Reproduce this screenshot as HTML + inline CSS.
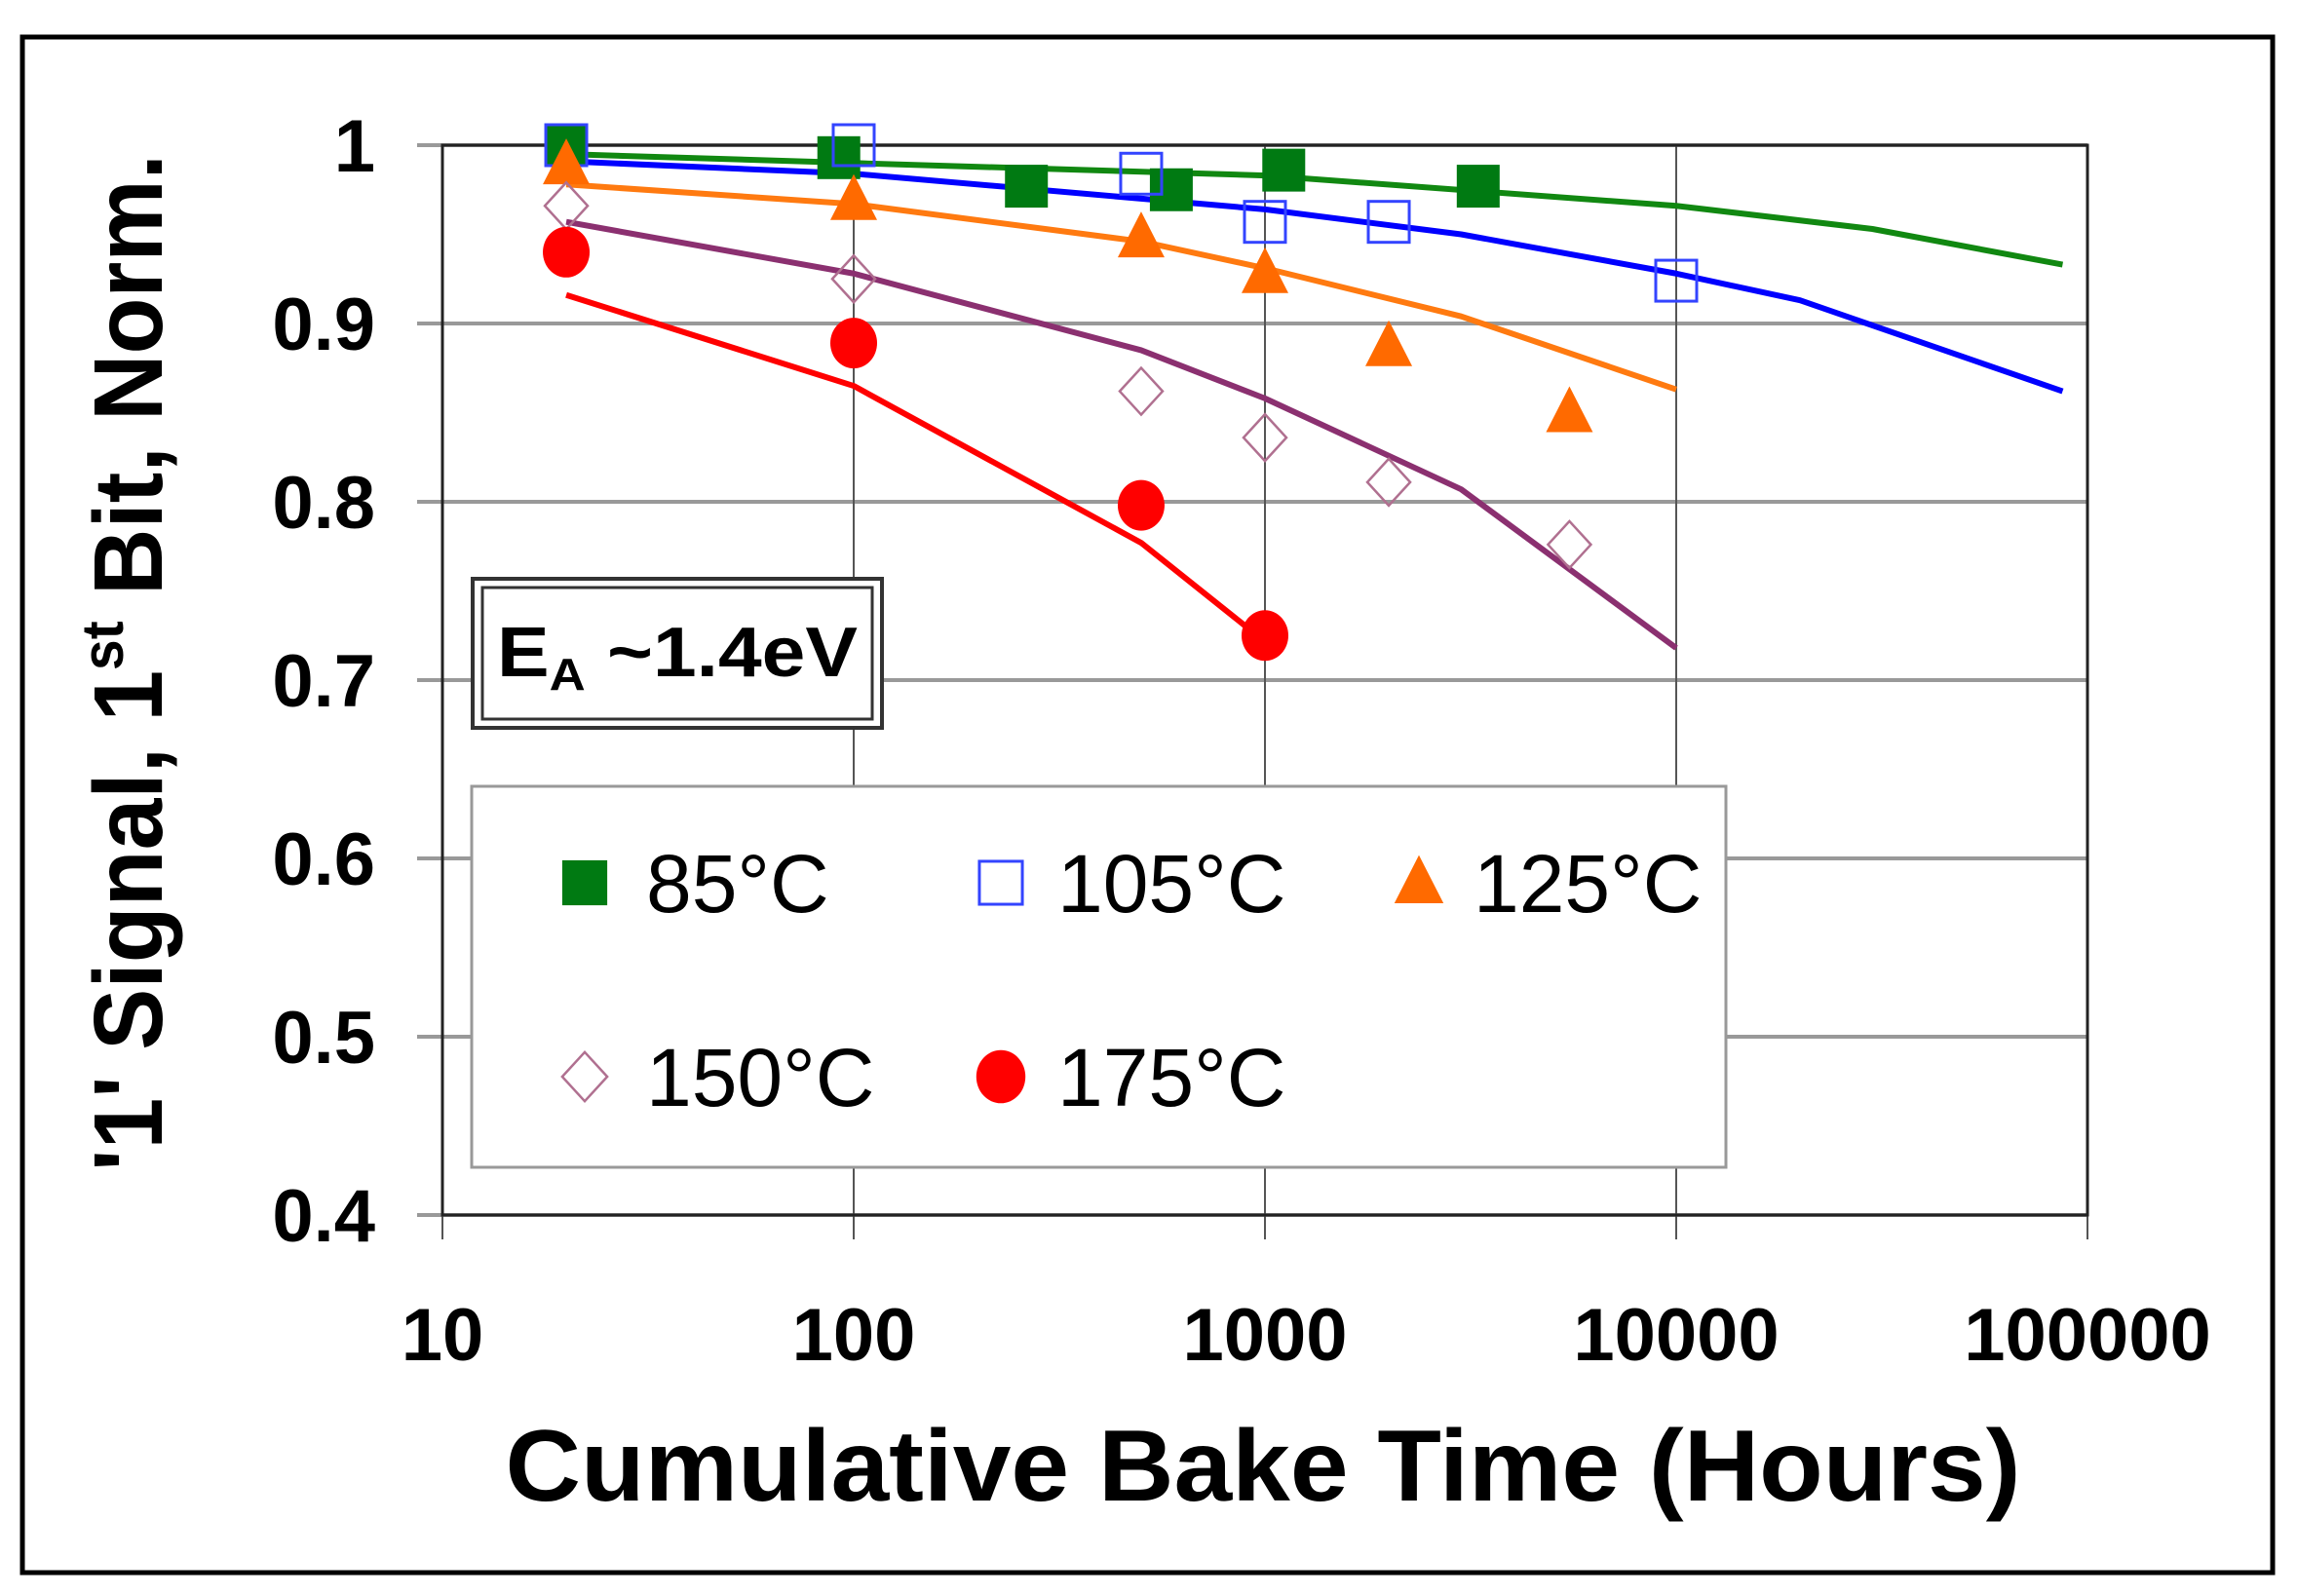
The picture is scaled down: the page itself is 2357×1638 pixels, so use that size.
<!DOCTYPE html>
<html><head><meta charset="utf-8"><style>
html,body{margin:0;padding:0;background:#fff;}
svg{display:block;font-family:"Liberation Sans",Arial,sans-serif;}
</style></head><body>
<svg id="chart" width="2357" height="1638" viewBox="0 0 2357 1638" xmlns="http://www.w3.org/2000/svg">
<rect x="23" y="38" width="2309" height="1576" fill="#fff" stroke="#000" stroke-width="5"/>
<g id="grid"></g>
<g id="axes"></g>
<g id="series"></g>
<text x="1296" y="1540" font-size="104" font-weight="bold" text-anchor="middle" textLength="1555" lengthAdjust="spacingAndGlyphs">Cumulative Bake Time (Hours)</text>
<text transform="translate(166,680) rotate(-90)" font-size="100" font-weight="bold" text-anchor="middle" textLength="1044" lengthAdjust="spacingAndGlyphs">'1' Signal, 1<tspan font-size="60" dy="-40">st</tspan><tspan dy="40"> Bit, Norm.</tspan></text>
<g>
<rect x="485" y="594" width="420" height="153" fill="#fff" stroke="#333" stroke-width="4"/>
<rect x="495" y="603" width="400" height="135" fill="none" stroke="#333" stroke-width="3"/>
<text x="510" y="694" font-size="72" font-weight="bold" textLength="370" lengthAdjust="spacingAndGlyphs">E<tspan font-size="46" dy="14">A</tspan><tspan dy="-14"> ~1.4eV</tspan></text>
</g>
<g id="legend">
<rect x="484" y="807" width="1287" height="391" fill="#fff" stroke="#999" stroke-width="3"/>
</g>
</svg>
<script>
const xTicks=[10,100,1000,10000,100000];
const xTickLabels=["10","100","1000","10000","100000"];
const yTicks=[0.4,0.5,0.6,0.7,0.8,0.9,1];
const yTickLabels=["0.4","0.5","0.6","0.7","0.8","0.9","1"];
const seriesNames=["85°C","105°C","125°C","150°C","175°C"];
const pts85x=[20,92,263,592,1111,3300];
const pts85y=[1.0,0.993,0.977,0.975,0.986,0.977];
const fit85x=[20,100,1000,10000,30000,87000];
const fit85y=[0.995,0.99,0.983,0.966,0.953,0.933];
const pts105x=[20,100,500,1000,2000,10000];
const pts105y=[1.0,1.0,0.984,0.957,0.957,0.924];
const fit105x=[20,100,1000,3000,10000,20000,87000];
const fit105y=[0.991,0.984,0.964,0.95,0.928,0.913,0.862];
const pts125x=[20,100,500,1000,2000,5500];
const pts125y=[0.989,0.969,0.948,0.928,0.887,0.85];
const fit125x=[20,100,500,1000,3000,10000];
const fit125y=[0.978,0.967,0.946,0.931,0.904,0.863];
const pts150x=[20,100,500,1000,2000,5500];
const pts150y=[0.966,0.925,0.862,0.836,0.811,0.776];
const fit150x=[20,100,500,1000,3000,10000];
const fit150y=[0.957,0.928,0.885,0.858,0.807,0.718];
const pts175x=[20,100,500,1000];
const pts175y=[0.94,0.889,0.798,0.725];
const fit175x=[20,100,500,900];
const fit175y=[0.916,0.865,0.777,0.73];

const NS="http://www.w3.org/2000/svg";
const L=454,R=2142,T=149,B=1247;
function xs(v){return L+(Math.log10(v)-1)/4*(R-L);}
function ys(v){return B-(v-0.4)/0.6*(B-T);}
function mk(tag,attrs,parent){const e=document.createElementNS(NS,tag);for(const k in attrs)e.setAttribute(k,attrs[k]);parent.appendChild(e);return e;}
const grid=document.getElementById('grid'),axes=document.getElementById('axes'),ser=document.getElementById('series'),leg=document.getElementById('legend');
mk('rect',{x:L,y:T,width:R-L,height:B-T,fill:'#fff'},grid);
yTicks.forEach((v,i)=>{
 const g=mk('line',{x1:428,x2:R,y1:ys(v),y2:ys(v),stroke:'#999','stroke-width':4},grid);
 
 
 const t=mk('text',{x:385,y:ys(v)+27,'font-size':76,'font-weight':'bold','text-anchor':'end'},axes);
 t.textContent=yTickLabels[i];
 
 
});
xTicks.forEach((v,i)=>{
 const g=mk('line',{x1:xs(v),x2:xs(v),y1:T,y2:B+25,stroke:'#555','stroke-width':2},grid);
 
 
 const t=mk('text',{x:xs(v),y:1396,'font-size':76,'font-weight':'bold','text-anchor':'middle'},axes);
 t.textContent=xTickLabels[i];
 
 
});
const frame=mk('rect',{x:L,y:T,width:R-L,height:B-T,fill:'none',stroke:'#222','stroke-width':3},axes);



function marker(type,cx,cy,parent,s){
 s=s||1;let e;
 if(type==='sq') e=mk('rect',{x:cx-22*s,y:cy-22*s,width:44*s,height:44*s,fill:'#007a12'},parent);
 else if(type==='osq') e=mk('rect',{x:cx-21*s,y:cy-21*s,width:42*s,height:42*s,fill:'none',stroke:'#3344ff','stroke-width':3},parent);
 else if(type==='tri') e=mk('polygon',{points:`${cx},${cy-27*s} ${cx+24*s},${cy+20*s} ${cx-24*s},${cy+20*s}`,fill:'#ff6a00'},parent);
 else if(type==='dia') e=mk('polygon',{points:`${cx},${cy-24*s} ${cx+22*s},${cy} ${cx},${cy+24*s} ${cx-22*s},${cy}`,fill:'none',stroke:'#b07090','stroke-width':2.5},parent);
 else e=mk('ellipse',{cx:cx,cy:cy,rx:24*s,ry:26*s,fill:'#ff0000'},parent);
 return e;
}
const defs=[
 {fx:fit85x,fy:fit85y,px:pts85x,py:pts85y,c:'#118811',m:'sq',n:'85c'},
 {fx:fit105x,fy:fit105y,px:pts105x,py:pts105y,c:'#0000ff',m:'osq',n:'105c'},
 {fx:fit125x,fy:fit125y,px:pts125x,py:pts125y,c:'#ff7a10',m:'tri',n:'125c'},
 {fx:fit150x,fy:fit150y,px:pts150x,py:pts150y,c:'#8b3070',m:'dia',n:'150c'},
 {fx:fit175x,fy:fit175y,px:pts175x,py:pts175y,c:'#ff0000',m:'cir',n:'175c'}
];
defs.forEach(d=>{
 const p=mk('polyline',{points:d.fx.map((x,i)=>xs(x)+','+ys(d.fy[i])).join(' '),fill:'none',stroke:d.c,'stroke-width':6,'stroke-linejoin':'round'},ser);
 
 
});
defs.forEach(d=>{
 d.px.forEach((x,i)=>{
  const e=marker(d.m,xs(x),ys(d.py[i]),ser);
  
  
 });
});
const legPos=[[600,906,663],[1027,906,1085],[1456,906,1512],[600,1105,663],[1027,1105,1085]];
defs.forEach((d,i)=>{
 const [mx,my,tx]=legPos[i];
 const e=marker(d.m,mx,my,leg,1.05);
 
 
 const t=mk('text',{x:tx,y:my+30,'font-size':84},leg);
 t.textContent=seriesNames[i];
 
 
});
</script>
</body></html>
